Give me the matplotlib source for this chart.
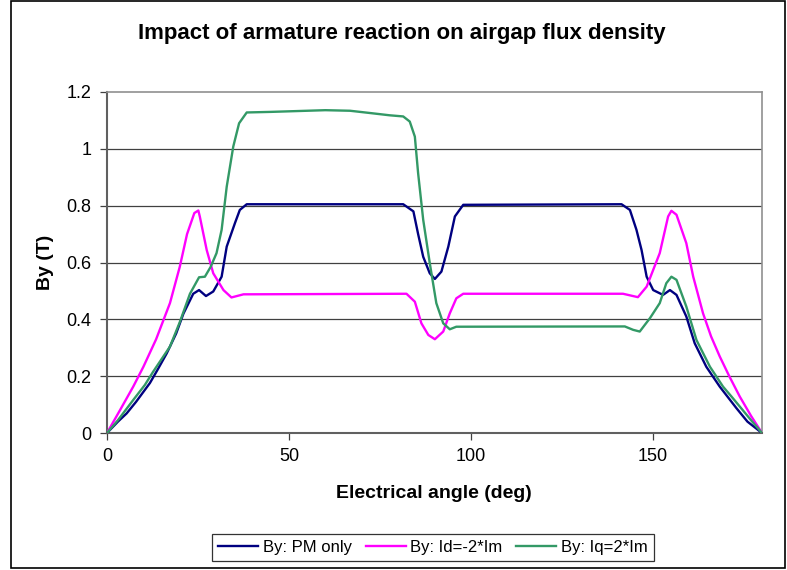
import numpy as np
import matplotlib
matplotlib.use("Agg")
from matplotlib import pyplot as plt
from matplotlib.patches import Rectangle

plt.rcParams['font.family'] = ['Liberation Sans', 'DejaVu Sans']

# By: PM only
pm_x = [0, 3, 5.4, 8, 11.8, 14, 16.4, 19, 21, 23.7, 25.3, 27.2, 29.2, 31.5, 32.9, 35.2, 36.5, 38.4,
        81.4, 84.2, 85.5, 86.9, 88.7, 90.1, 91.9, 93.8, 95.6, 97.9,
        141.4, 143.7, 145.5, 146.9, 148.3, 150.1, 152.8, 154.7, 156.5, 159.2, 161.5, 164.7, 168.4,
        171, 173, 176, 180]
pm_y = [0, 0.04, 0.069, 0.11, 0.176, 0.225, 0.28, 0.35, 0.42, 0.49, 0.503, 0.482, 0.498, 0.55, 0.656,
        0.74, 0.785, 0.805,
        0.805, 0.78, 0.70, 0.62, 0.562, 0.542, 0.568, 0.656, 0.762, 0.803,
        0.805, 0.785, 0.715, 0.644, 0.55, 0.503, 0.486, 0.503, 0.486, 0.41, 0.316, 0.233, 0.163,
        0.12, 0.087, 0.04, 0]

# By: Id=-2*Im
id_x = [0, 3.6, 7.2, 10, 13.5, 17.3, 20, 22, 24, 25.1, 25.5, 27.4, 29.2, 32, 34.2, 37.5,
        82.3, 84.6, 86.4, 88.3, 90.1, 92.4, 94.2, 96, 97.9,
        141.8, 145.9, 148.3, 151.9, 154.2, 155.1, 156.5, 159.2, 161.1, 163.8, 166, 168.4, 171,
        173.9, 177, 180]
id_y = [0, 0.081, 0.163, 0.233, 0.33, 0.457, 0.585, 0.70, 0.774, 0.783, 0.762, 0.644, 0.562, 0.503,
        0.477, 0.488,
        0.49, 0.462, 0.386, 0.345, 0.33, 0.357, 0.421, 0.474, 0.49,
        0.49, 0.478, 0.515, 0.633, 0.762, 0.782, 0.768, 0.668, 0.55, 0.421, 0.34, 0.269, 0.2,
        0.128, 0.06, 0]

# By: Iq=2*Im
iq_x = [0, 3, 7.2, 10.4, 12.7, 17.3, 20, 22.8, 25.3, 26.9, 28.5, 30.1, 31.5, 32.9, 34.7, 36.3, 38.4,
        45, 55, 60, 66.8, 72.3, 77.7, 81.4, 83.2, 84.6, 85.5, 86.9, 88.7, 90.5, 92.4, 94.2, 96,
        142.3, 144.6, 146.4, 149.2, 151.9, 153.7, 155.1, 156.5, 159.2, 162, 165.7, 169.3, 171.5,
        173.9, 177, 180]
iq_y = [0, 0.045, 0.116, 0.169, 0.216, 0.304, 0.39, 0.49, 0.548, 0.55, 0.585, 0.633, 0.715, 0.867,
        1.008, 1.09, 1.128,
        1.13, 1.134, 1.136, 1.134, 1.126, 1.118, 1.114, 1.096, 1.043, 0.914, 0.75, 0.598, 0.457,
        0.386, 0.365, 0.374,
        0.375, 0.363, 0.357, 0.404, 0.457, 0.527, 0.55, 0.539, 0.445, 0.327, 0.233, 0.163, 0.13,
        0.093, 0.045, 0]

W, H = 787, 570
fig = plt.figure(figsize=(W / 100, H / 100), dpi=100)
ax = fig.add_axes([107 / W, 1 - 433 / H, (762 - 107) / W, (433 - 92) / H])

for yv in [0.2, 0.4, 0.6, 0.8, 1.0]:
    ax.axhline(yv, color='#404040', lw=0.9, zorder=1)

ax.plot(pm_x, pm_y, color='#000080', lw=1.7, label='By: PM only', zorder=3)
ax.plot(id_x, id_y, color='#FF00FF', lw=1.7, label='By: Id=-2*Im', zorder=3)
ax.plot(iq_x, iq_y, color='#339966', lw=1.7, label='By: Iq=2*Im', zorder=3)

ax.set_xlim(0, 180)
ax.set_ylim(0, 1.2)
ax.set_xticks([0, 50, 100, 150])
ax.set_yticks([0, 0.2, 0.4, 0.6, 0.8, 1.0, 1.2])
ax.set_yticklabels(['0', '0.2', '0.4', '0.6', '0.8', '1', '1.2'])
ax.tick_params(direction='out', length=5, width=0.9, color='#404040', labelsize=13, pad=6)

for s in ['left', 'bottom']:
    ax.spines[s].set_color('#606060')
    ax.spines[s].set_linewidth(1.5)
for s in ['top', 'right']:
    ax.spines[s].set_color('#909090')
    ax.spines[s].set_linewidth(1.2)

fig.text(402 / W, 1 - 33 / H, 'Impact of armature reaction on airgap flux density',
         ha='center', va='center', fontsize=16, fontweight='bold')
fig.text(434 / W, 1 - 494 / H, 'Electrical angle (deg)', ha='center', va='center',
         fontsize=14, fontweight='bold')
fig.text(45 / W, 1 - 262 / H, 'By (T)', ha='center', va='center', rotation=90,
         fontsize=14, fontweight='bold')

leg = fig.legend(loc='center', bbox_to_anchor=(433 / W, 1 - 547.5 / H), ncol=3, fontsize=12,
                 frameon=True, fancybox=False, edgecolor='black', handlelength=2.4,
                 handletextpad=0.3, columnspacing=0.8, borderpad=0.35)
leg.get_frame().set_linewidth(0.9)

fig.patches.append(Rectangle((11 / W, 1 - 568 / H), (785 - 11) / W, (568 - 1) / H,
                             transform=fig.transFigure, fill=False, edgecolor='black', lw=1.2))

fig.savefig('out.png', dpi=100)
